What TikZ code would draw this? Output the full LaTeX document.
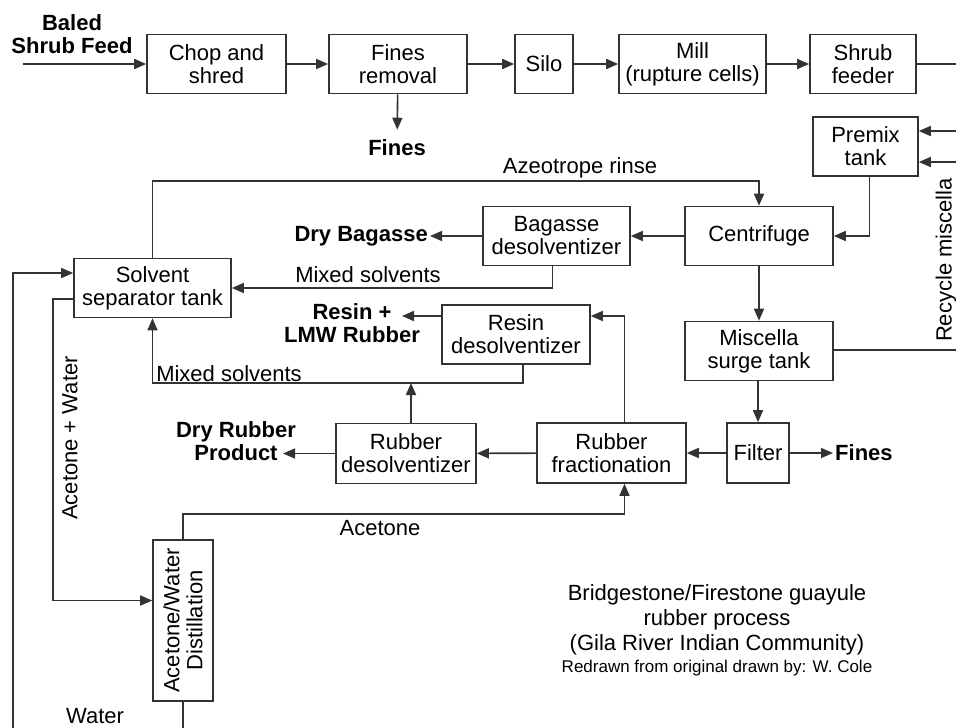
\documentclass[tikz,border=0pt]{standalone}
\usepackage{fontspec}
\setmainfont{Liberation Sans}
\usetikzlibrary{arrows.meta}

\begin{document}
\begin{tikzpicture}[x=1pt, y=-1pt, >={Triangle[length=12pt,width=10pt]},
    font=\fontsize{22}{23}\selectfont,
    flow/.style={line width=1.6pt, draw=black!80},
    box/.style={draw=black!80, line width=1.6pt, align=center, inner sep=0pt, minimum height=59pt},
    product/.style={font=\fontsize{22}{23}\selectfont\bfseries, align=center, inner sep=2pt},
    lbl/.style={inner sep=1pt}]

    % Frame of the page
    \useasboundingbox (0,0) rectangle (956,728);

    % Shrub preparation line
    \node[product] (feed) at (72,34) {Baled\\Shrub Feed};
    \coordinate (feedin) at (23,64);
    \node[box, minimum width=139pt] (chop) at (216.5,64) {Chop and\\shred};
    \node[box, minimum width=138pt] (finesrm) at (398,64) {Fines\\removal};
    \node[box, minimum width=58pt] (silo) at (544,64) {Silo};
    \node[box, minimum width=147pt] (mill) at (692.5,64) {Mill\\(rupture cells)};
    \node[box, minimum width=106pt] (feeder) at (863,64) {Shrub\\feeder};
    \coordinate (feedout) at (956,64);
    \node[product] (fines1) at (397,148) {Fines};

    \draw[flow,->] (feedin) -- (chop);
    \draw[flow,->] (chop) -- (finesrm);
    \draw[flow,->] (finesrm) -- (silo);
    \draw[flow,->] (silo) -- (mill);
    \draw[flow,->] (mill) -- (feeder);
    \draw[flow] (feeder) -- (feedout);
    \draw[flow,->, shorten >=8pt] (finesrm) -- (fines1);

    % Extraction
    \node[box, minimum width=105pt] (premix) at (865.5,146.5) {Premix\\tank};
    \coordinate (rin1) at (956,131);
    \coordinate (rin2) at (956,162);
    \node[box, minimum width=148pt] (centrifuge) at (759,236) {Centrifuge};
    \node[box, minimum width=147pt] (bagasse) at (556.5,236) {Bagasse\\desolventizer};
    \node[product, anchor=east] (drybag) at (430,236) {Dry Bagasse};
    \node[box, minimum width=157pt] (solvent) at (152.5,288) {Solvent\\separator tank};
    \node[box, minimum width=148pt] (miscella) at (759,351) {Miscella\\surge tank};
    \coordinate (recyc) at (956,350);
    \coordinate (rinse) at (400,181);

    \draw[flow,->] (rin1) -- (rin1 -| premix.east);
    \draw[flow,->] (rin2) -- (rin2 -| premix.east);
    \draw[flow,->] ([xshift=4pt]premix.south) |- (centrifuge.east);
    \draw[flow,->] (solvent.north) |- (rinse) -| (centrifuge.north);
    \draw[flow,->] (centrifuge) -- (bagasse);
    \draw[flow,->] (bagasse) -- (drybag);
    \draw[flow,->] ([xshift=-4pt]bagasse.south) |- (solvent.east);
    \draw[flow,->] (centrifuge) -- (miscella);
    \draw[flow] (miscella.east |- recyc) -- (recyc);

    \node[lbl] (rinselbl) at (580,168) {Azeotrope rinse};
    \node[lbl] (mix1) at (368,275) {Mixed solvents};
    \node[lbl, rotate=90] (recyclbl) at (946,260) {Recycle miscella};

    % Rubber recovery
    \node[box, minimum width=148pt] (resin) at (516,334.5) {Resin\\desolventizer};
    \node[product] (resinout) at (352,323) {Resin +\\LMW Rubber};
    \coordinate (resintip) at (402,316);
    \node[box, minimum width=62pt, minimum height=60pt] (filter) at (758,453) {Filter};
    \node[product, anchor=west] (fines2) at (833,453) {Fines};
    \node[box, minimum width=149pt, minimum height=60pt] (fraction) at (611.5,453) {Rubber\\fractionation};
    \node[box, minimum width=140pt, minimum height=60pt] (rubdes) at (406,453.5) {Rubber\\desolventizer};
    \node[product] (dryrub) at (236,441) {Dry Rubber\\Product};
    \coordinate (prodtip) at (283,453.5);
    \coordinate (mixline) at (300,383);

    \draw[flow,->] (miscella.south -| filter.north) -- (filter.north);
    \draw[flow,->] (filter) -- (fines2);
    \draw[flow,->] (filter) -- (fraction);
    \draw[flow,->] (fraction) -- (rubdes);
    \draw[flow,->] (rubdes) -- (prodtip);
    \draw[flow,->] ([yshift=18.5pt]resin.west) -- (resintip);
    \draw[flow,->] ([xshift=13pt]fraction.north) |- ([yshift=18.5pt]resin.east);
    \draw[flow,->] ([xshift=7pt]resin.south) |- (mixline) -| (solvent.south);
    \draw[flow,->] ([xshift=5pt]rubdes.north) -- ([xshift=5pt]rubdes.north |- mixline);

    \node[lbl] (mix2) at (229,374) {Mixed solvents};

    % Solvent recovery
    \node[box, rotate=90, minimum width=161pt, minimum height=60pt] (distill) at (183,620.5) {Acetone/Water\\Distillation};
    \coordinate (acet) at (400,514);
    \coordinate (aw) at (53,450);
    \coordinate (wout) at (183,728);
    \coordinate (outer) at (13,728);

    \draw[flow,->] (distill.east) |- (acet) -| ([xshift=13pt]fraction.south);
    \draw[flow,->] ([yshift=-11pt]solvent.west) -| (aw) |- ([yshift=20pt]distill.north);
    \draw[flow] (distill.west) -- (wout);
    \draw[flow,->] (outer) |- ([yshift=15pt]solvent.west);

    \node[lbl] (acetlbl) at (380,528) {Acetone};
    \node[lbl, rotate=90] (awlbl) at (70,438) {Acetone + Water};
    \node[lbl] (water) at (95,716) {Water};

    % Title
    \node[align=center, font=\fontsize{22}{25}\selectfont] (title) at (717,630)
        {Bridgestone/Firestone guayule\\rubber process\\(Gila River Indian Community)\\[-3pt]{\fontsize{17}{18}\selectfont Redrawn from original drawn by: W. Cole}};

\end{tikzpicture}
\end{document}
